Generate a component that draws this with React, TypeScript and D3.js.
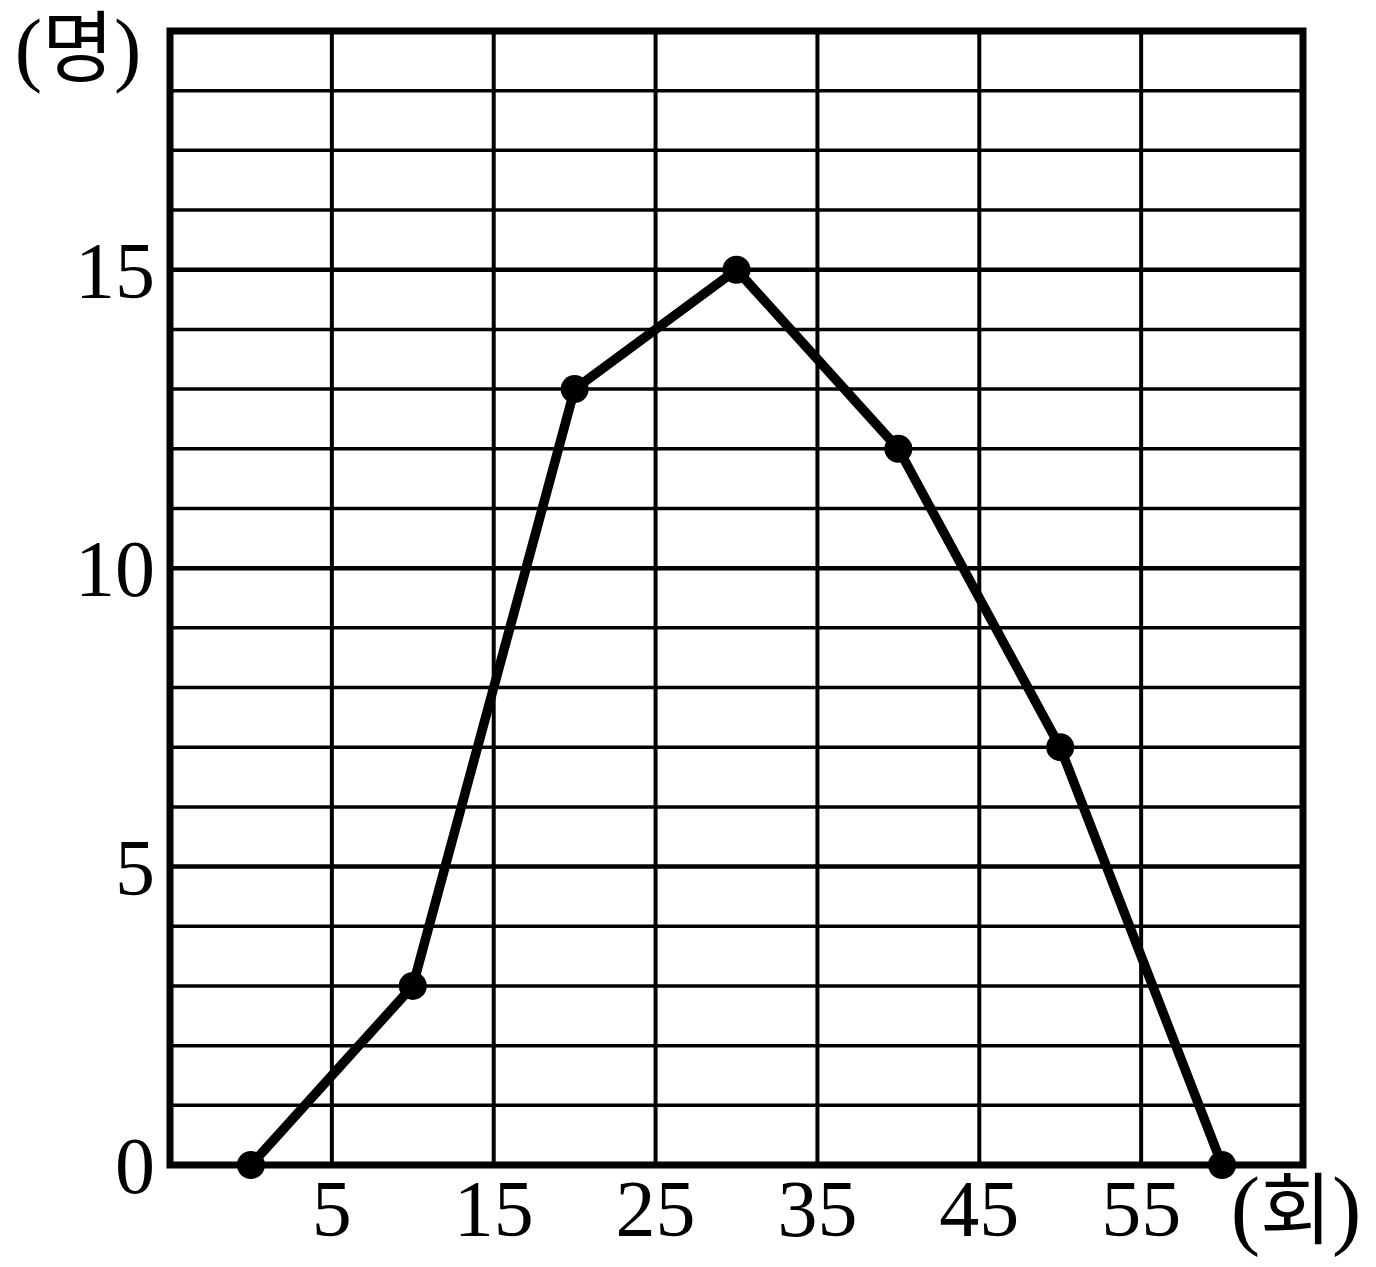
import React from "react";
import * as d3 from "d3";

const xValues = [0, 10, 20, 30, 40, 50, 60];
const counts = [0, 3, 13, 15, 12, 7, 0];
const xTickLabels = [5, 15, 25, 35, 45, 55];
const yTickLabels = [0, 5, 10, 15];
const yUnit = "명";
const xUnit = "회";

const W = 1376, H = 1267;
const L = 170, R = 1303, T = 31, B = 1165;

export default function App() {
  const x = d3.scaleLinear().domain([-5, 65]).range([L, R]);
  const y = d3.scaleLinear().domain([0, 19]).range([B, T]);
  const hLines = d3.range(1, 19);
  const vLines = d3.range(5, 65, 10);
  const line = d3.line<number>().x((_, i) => x(xValues[i])).y((d) => y(d));
  const serif = "'Liberation Serif', 'DejaVu Serif', serif";
  const kr = "'Noto Sans CJK KR', serif";
  return (
    <svg width={W} height={H} style={{ position: "absolute", left: 0, top: 0 }}>
      <rect width={W} height={H} fill="#fff" />
      {hLines.map((v) => (
        <line key={"h" + v} x1={L} x2={R} y1={y(v)} y2={y(v)} stroke="#000" strokeWidth={v % 5 === 0 ? 4.5 : 3.5} />
      ))}
      {vLines.map((v) => (
        <line key={"v" + v} x1={x(v)} x2={x(v)} y1={T} y2={B} stroke="#000" strokeWidth={4} />
      ))}
      <rect x={L} y={T} width={R - L} height={B - T} fill="none" stroke="#000" strokeWidth={7} />
      <path d={line(counts) || ""} fill="none" stroke="#000" strokeWidth={9.5} strokeLinejoin="round" />
      {counts.map((c, i) => (
        <circle key={i} cx={x(xValues[i])} cy={y(c)} r={14} fill="#000" />
      ))}
      {yTickLabels.map((v) => (
        <text key={"yl" + v} x={155} y={y(v)} dy="0.35em" textAnchor="end" fontFamily={serif} fontSize={80} fill="#000">
          {v}
        </text>
      ))}
      {xTickLabels.map((v) => (
        <text key={"xl" + v} x={x(v)} y={1236} textAnchor="middle" fontFamily={serif} fontSize={80} fill="#000">
          {v}
        </text>
      ))}
      <text x={78} y={76} textAnchor="middle" fill="#000">
        <tspan fontFamily={serif} fontSize={82}>(</tspan>
        <tspan fontFamily={kr} fontSize={78}>{yUnit}</tspan>
        <tspan fontFamily={serif} fontSize={82}>)</tspan>
      </text>
      <text x={1296} y={1238} textAnchor="middle" fill="#000">
        <tspan fontFamily={serif} fontSize={88}>(</tspan>
        <tspan fontFamily={kr} fontSize={78}>{xUnit}</tspan>
        <tspan fontFamily={serif} fontSize={88}>)</tspan>
      </text>
    </svg>
  );
}
